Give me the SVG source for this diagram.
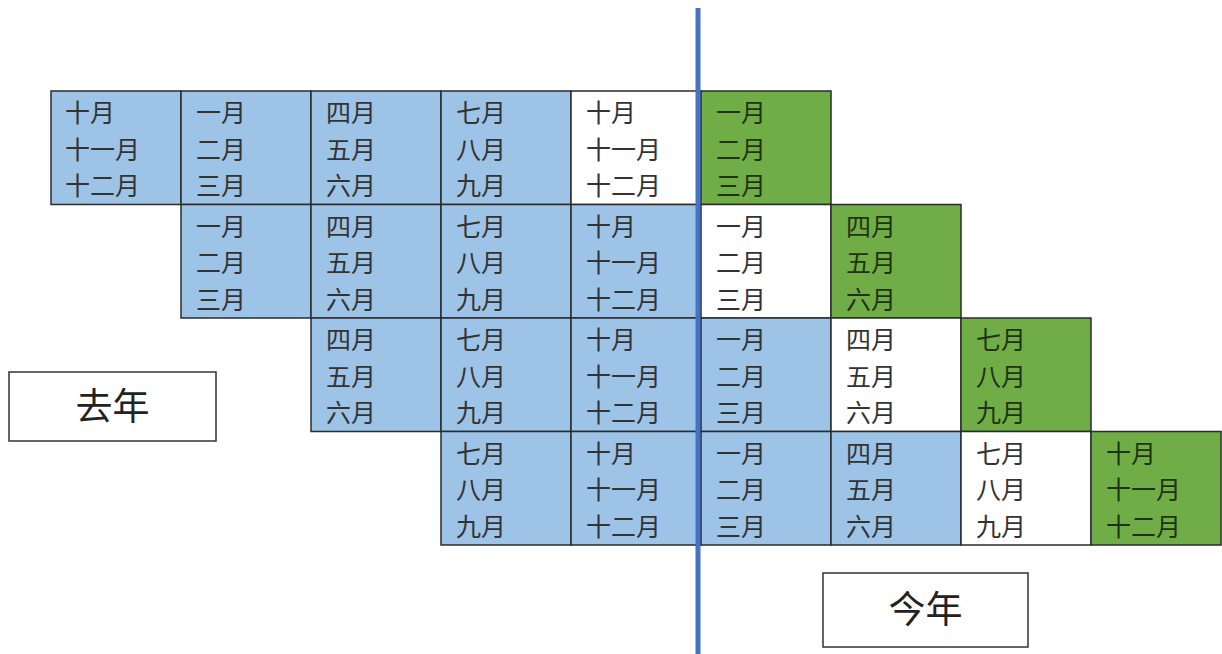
<svg xmlns="http://www.w3.org/2000/svg" width="1222" height="654" viewBox="0 0 1222 654">
<style>
.c{stroke:#2b2b2b;stroke-width:1.5}
.b{fill:#9DC3E6}.w{fill:#ffffff}.g{fill:#70AD47}
.t{font-family:"Noto Sans CJK SC","Noto Sans",sans-serif;font-size:25px;fill:#333}
.tg{fill:#1f3312}
.lb{fill:#fff;stroke:#333;stroke-width:1.5}
.lt{font-family:"Noto Sans CJK SC","Noto Sans",sans-serif;font-size:37px;fill:#222;text-anchor:middle}
</style>
<rect width="1222" height="654" fill="#fff"/>
<g id="row1">
<g id="r1c0"><rect class="c b" x="51" y="91" width="130" height="113.5"/><text class="t" x="65" y="122"><tspan x="65">十月</tspan><tspan x="65" dy="36.5">十一月</tspan><tspan x="65" dy="36.5">十二月</tspan></text></g>
<g id="r1c1"><rect class="c b" x="181" y="91" width="130" height="113.5"/><text class="t" x="196" y="122"><tspan x="196">一月</tspan><tspan x="196" dy="36.5">二月</tspan><tspan x="196" dy="36.5">三月</tspan></text></g>
<g id="r1c2"><rect class="c b" x="311" y="91" width="130" height="113.5"/><text class="t" x="326" y="122"><tspan x="326">四月</tspan><tspan x="326" dy="36.5">五月</tspan><tspan x="326" dy="36.5">六月</tspan></text></g>
<g id="r1c3"><rect class="c b" x="441" y="91" width="130" height="113.5"/><text class="t" x="456" y="122"><tspan x="456">七月</tspan><tspan x="456" dy="36.5">八月</tspan><tspan x="456" dy="36.5">九月</tspan></text></g>
<g id="r1c4"><rect class="c w" x="571" y="91" width="130" height="113.5"/><text class="t" x="586" y="122"><tspan x="586">十月</tspan><tspan x="586" dy="36.5">十一月</tspan><tspan x="586" dy="36.5">十二月</tspan></text></g>
<g id="r1c5"><rect class="c g" x="701" y="91" width="130" height="113.5"/><text class="t tg" x="716" y="122"><tspan x="716">一月</tspan><tspan x="716" dy="36.5">二月</tspan><tspan x="716" dy="36.5">三月</tspan></text></g>
</g>
<g id="row2">
<g id="r2c1"><rect class="c b" x="181" y="204.5" width="130" height="113.5"/><text class="t" x="196" y="235.5"><tspan x="196">一月</tspan><tspan x="196" dy="36.5">二月</tspan><tspan x="196" dy="36.5">三月</tspan></text></g>
<g id="r2c2"><rect class="c b" x="311" y="204.5" width="130" height="113.5"/><text class="t" x="326" y="235.5"><tspan x="326">四月</tspan><tspan x="326" dy="36.5">五月</tspan><tspan x="326" dy="36.5">六月</tspan></text></g>
<g id="r2c3"><rect class="c b" x="441" y="204.5" width="130" height="113.5"/><text class="t" x="456" y="235.5"><tspan x="456">七月</tspan><tspan x="456" dy="36.5">八月</tspan><tspan x="456" dy="36.5">九月</tspan></text></g>
<g id="r2c4"><rect class="c b" x="571" y="204.5" width="130" height="113.5"/><text class="t" x="586" y="235.5"><tspan x="586">十月</tspan><tspan x="586" dy="36.5">十一月</tspan><tspan x="586" dy="36.5">十二月</tspan></text></g>
<g id="r2c5"><rect class="c w" x="701" y="204.5" width="130" height="113.5"/><text class="t" x="716" y="235.5"><tspan x="716">一月</tspan><tspan x="716" dy="36.5">二月</tspan><tspan x="716" dy="36.5">三月</tspan></text></g>
<g id="r2c6"><rect class="c g" x="831" y="204.5" width="130" height="113.5"/><text class="t tg" x="846" y="235.5"><tspan x="846">四月</tspan><tspan x="846" dy="36.5">五月</tspan><tspan x="846" dy="36.5">六月</tspan></text></g>
</g>
<g id="row3">
<g id="r3c2"><rect class="c b" x="311" y="318" width="130" height="113.5"/><text class="t" x="326" y="349"><tspan x="326">四月</tspan><tspan x="326" dy="36.5">五月</tspan><tspan x="326" dy="36.5">六月</tspan></text></g>
<g id="r3c3"><rect class="c b" x="441" y="318" width="130" height="113.5"/><text class="t" x="456" y="349"><tspan x="456">七月</tspan><tspan x="456" dy="36.5">八月</tspan><tspan x="456" dy="36.5">九月</tspan></text></g>
<g id="r3c4"><rect class="c b" x="571" y="318" width="130" height="113.5"/><text class="t" x="586" y="349"><tspan x="586">十月</tspan><tspan x="586" dy="36.5">十一月</tspan><tspan x="586" dy="36.5">十二月</tspan></text></g>
<g id="r3c5"><rect class="c b" x="701" y="318" width="130" height="113.5"/><text class="t" x="716" y="349"><tspan x="716">一月</tspan><tspan x="716" dy="36.5">二月</tspan><tspan x="716" dy="36.5">三月</tspan></text></g>
<g id="r3c6"><rect class="c w" x="831" y="318" width="130" height="113.5"/><text class="t" x="846" y="349"><tspan x="846">四月</tspan><tspan x="846" dy="36.5">五月</tspan><tspan x="846" dy="36.5">六月</tspan></text></g>
<g id="r3c7"><rect class="c g" x="961" y="318" width="130" height="113.5"/><text class="t tg" x="976" y="349"><tspan x="976">七月</tspan><tspan x="976" dy="36.5">八月</tspan><tspan x="976" dy="36.5">九月</tspan></text></g>
</g>
<g id="row4">
<g id="r4c3"><rect class="c b" x="441" y="431.5" width="130" height="113.5"/><text class="t" x="456" y="462.5"><tspan x="456">七月</tspan><tspan x="456" dy="36.5">八月</tspan><tspan x="456" dy="36.5">九月</tspan></text></g>
<g id="r4c4"><rect class="c b" x="571" y="431.5" width="130" height="113.5"/><text class="t" x="586" y="462.5"><tspan x="586">十月</tspan><tspan x="586" dy="36.5">十一月</tspan><tspan x="586" dy="36.5">十二月</tspan></text></g>
<g id="r4c5"><rect class="c b" x="701" y="431.5" width="130" height="113.5"/><text class="t" x="716" y="462.5"><tspan x="716">一月</tspan><tspan x="716" dy="36.5">二月</tspan><tspan x="716" dy="36.5">三月</tspan></text></g>
<g id="r4c6"><rect class="c b" x="831" y="431.5" width="130" height="113.5"/><text class="t" x="846" y="462.5"><tspan x="846">四月</tspan><tspan x="846" dy="36.5">五月</tspan><tspan x="846" dy="36.5">六月</tspan></text></g>
<g id="r4c7"><rect class="c w" x="961" y="431.5" width="130" height="113.5"/><text class="t" x="976" y="462.5"><tspan x="976">七月</tspan><tspan x="976" dy="36.5">八月</tspan><tspan x="976" dy="36.5">九月</tspan></text></g>
<g id="r4c8"><rect class="c g" x="1091" y="431.5" width="130" height="113.5"/><text class="t tg" x="1106" y="462.5"><tspan x="1106">十月</tspan><tspan x="1106" dy="36.5">十一月</tspan><tspan x="1106" dy="36.5">十二月</tspan></text></g>
</g>
<g id="connectors">
<line x1="698" y1="8" x2="698" y2="654" stroke="#4472C4" stroke-width="5"/>
</g>
<g id="label-lastyear"><rect class="lb" x="9" y="372" width="207" height="69"/><text class="lt" x="112.5" y="420">去年</text></g>
<g id="label-thisyear"><rect class="lb" x="823" y="573" width="205" height="74"/><text class="lt" x="925.5" y="623">今年</text></g>
</svg>
